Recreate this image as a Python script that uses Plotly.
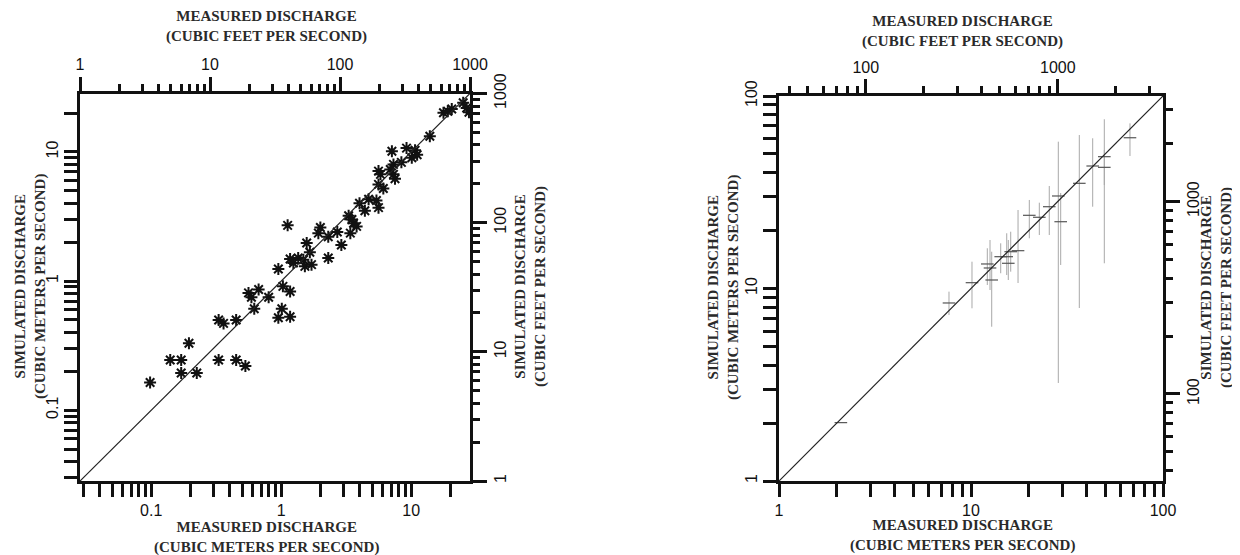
import math
import plotly.graph_objects as go

# ---------------- data ----------------
CFS_PER_CMS = 35.3147

# Left panel: measured vs simulated discharge (cubic meters per second)
left_measured = [25.1, 26.7, 27.8, 17.7, 19.1, 20.5, 13.9, 9.2, 7.1, 10.7, 11.1, 10.1,
                 8.4, 7.3, 6.9, 7.3, 7.5, 5.6, 5.8, 5.6, 6.1, 4.0, 4.7, 4.4, 5.4, 5.6,
                 3.3, 3.5, 3.6, 3.8, 3.4, 2.7, 2.3, 2.0, 1.93, 2.9, 1.12, 1.57, 1.66,
                 1.17, 1.35, 1.48, 1.52, 1.71, 1.24, 2.3, 0.95, 1.03, 1.17, 0.56, 0.59,
                 0.67, 0.80, 0.62, 1.01, 0.95, 1.17, 0.33, 0.36, 0.45, 0.195, 0.14,
                 0.17, 0.33, 0.45, 0.53, 0.17, 0.224, 0.098]
left_simulated = [24.0, 21.9, 20.3, 20.1, 20.6, 21.5, 13.2, 10.7, 10.1, 10.3, 9.5, 9.0,
                  8.3, 8.0, 7.3, 6.7, 6.2, 7.1, 6.7, 5.6, 5.2, 4.0, 4.3, 3.5, 4.2, 3.7,
                  3.2, 3.0, 2.8, 2.65, 2.35, 2.4, 2.2, 2.6, 2.35, 1.9, 2.7, 1.97, 1.67,
                  1.48, 1.51, 1.46, 1.30, 1.34, 1.38, 1.51, 1.24, 0.91, 0.83, 0.81, 0.75,
                  0.86, 0.75, 0.61, 0.61, 0.52, 0.53, 0.50, 0.47, 0.50, 0.33, 0.245,
                  0.245, 0.245, 0.245, 0.22, 0.194, 0.194, 0.164]

# Right panel: measured vs simulated discharge with simulated range (m3/s)
right_measured = [2.10, 7.68, 10.12, 12.16, 12.82, 12.56, 14.28, 15.35, 16.10, 15.64,
                  17.58, 20.12, 22.69, 25.57, 28.49, 29.32, 36.65, 43.04, 49.47, 49.47,
                  67.3]
right_simulated = [2.01, 8.41, 10.72, 13.41, 11.07, 12.78, 14.63, 14.63, 15.53, 13.52,
                   15.72, 24.0, 23.44, 26.6, 30.24, 22.23, 35.19, 43.29, 48.4, 42.6,
                   60.7]
right_sim_high = [2.01, 9.63, 13.78, 16.18, 15.53, 17.86, 17.17, 19.36, 19.73, 17.86,
                  25.57, 28.83, 27.91, 34.08, 57.9, 31.34, 62.7, 60.3, 75.7, 52.4,
                  72.1]
right_sim_low = [2.01, 7.28, 7.89, 10.43, 6.33, 9.82, 12.0, 11.75, 12.23, 11.07,
                 10.68, 18.23, 18.96, 18.96, 3.23, 13.25, 7.92, 26.6, 13.52, 34.5,
                 48.8]

# axis ranges (m3/s) and tick values
left_range_cms = [1 / CFS_PER_CMS, 1000 / CFS_PER_CMS]
right_range_cms = [1.0, 100.0]
left_cms_ticks = [0.03, 0.04, 0.05, 0.06, 0.07, 0.08, 0.09, 0.1, 0.2, 0.3, 0.4, 0.5,
                  0.6, 0.7, 0.8, 0.9, 1, 2, 3, 4, 5, 6, 7, 8, 9, 10, 20]
left_cms_labels = ["0.1", "1", "10"]
left_cfs_major = [1, 10, 100, 1000]
left_cfs_minor = [2, 3, 4, 5, 6, 7, 8, 9, 20, 30, 40, 50, 60, 70, 80, 90,
                  200, 300, 400, 500, 600, 700, 800, 900]
right_cms_ticks = [1, 2, 3, 4, 5, 6, 7, 8, 9, 10, 20, 30, 40, 50, 60, 70, 80, 90, 100]
right_cms_labels = ["1", "10", "100"]
right_cfs_major = [100, 1000]
right_cfs_minor = [40, 50, 60, 70, 80, 90, 200, 300, 400, 500, 600, 700, 800, 900,
                   2000, 3000]

X_TITLE_CFS = "MEASURED DISCHARGE<br>(CUBIC FEET PER SECOND)"
X_TITLE_CMS = "MEASURED DISCHARGE<br>(CUBIC METERS PER SECOND)"
Y_TITLE_CMS = "SIMULATED DISCHARGE<br>(CUBIC METERS PER SECOND)"
Y_TITLE_CFS = "SIMULATED DISCHARGE<br>(CUBIC FEET PER SECOND)"

# ---------------- styling helpers ----------------
TICK_FONT = dict(family="Liberation Sans", size=16, color="#111")
TITLE_FONT = dict(family="Liberation Serif", size=15, color="#2a2a2a", weight="bold")
LINE_W = 3
TICK_W = 2.5

# the page adds an 8px body margin, so the figure is 8px smaller than the window
W, H = 1232, 547
OFF = 8


def px_x(p):
    return (p - OFF) / W


def px_y(p):
    return 1 - (p - OFF) / H


def lg(v):
    return math.log10(v)


def cms_axis(domain, rng, ticks, labels, anchor, side, angle=0):
    text = []
    for t in ticks:
        match = [lab for lab in labels if abs(float(lab) - t) < 1e-9]
        text.append(match[0] if match else "")
    return dict(
        type="log", domain=domain, range=[lg(rng[0]), lg(rng[1])], anchor=anchor,
        side=side, showline=True, linewidth=LINE_W, linecolor="#111",
        ticks="outside", ticklen=13, tickwidth=TICK_W, tickcolor="#111",
        tickmode="array", tickvals=ticks, ticktext=text, tickangle=angle,
        tickfont=TICK_FONT, showgrid=False, zeroline=False, fixedrange=True,
        automargin=False,
    )


def cfs_axis(rng, major, minor, overlay, anchor, side, angle=0):
    return dict(
        type="log", overlaying=overlay, range=[lg(rng[0]), lg(rng[1])], anchor=anchor,
        side=side, showline=True, linewidth=LINE_W, linecolor="#111",
        ticks="outside", ticklen=14, tickwidth=TICK_W, tickcolor="#111",
        tickmode="array", tickvals=major, ticktext=[str(v) for v in major],
        tickangle=angle, tickfont=TICK_FONT, showgrid=False, zeroline=False,
        fixedrange=True, automargin=False,
        minor=dict(tickmode="array", tickvals=minor, ticklen=7, tickwidth=TICK_W,
                   tickcolor="#111", ticks="outside", showgrid=False),
    )


def title_ann(text, cx, cy, angle=0):
    return dict(text=text, x=px_x(cx), y=px_y(cy), xref="paper", yref="paper",
                xanchor="center", yanchor="middle", showarrow=False,
                textangle=angle, font=TITLE_FONT, align="center")


left_xdom = [px_x(80), px_x(470)]
right_xdom = [px_x(779), px_x(1163)]
left_ydom = [px_y(481), px_y(93.5)]
right_ydom = [px_y(481), px_y(96)]

left_range_cfs = [left_range_cms[0] * CFS_PER_CMS, left_range_cms[1] * CFS_PER_CMS]
right_range_cfs = [right_range_cms[0] * CFS_PER_CMS, right_range_cms[1] * CFS_PER_CMS]

fig = go.Figure()

# 1:1 lines (drawn on the cfs axes, spanning the full axis range)
fig.add_trace(go.Scatter(x=left_range_cfs, y=left_range_cfs, mode="lines",
                         line=dict(color="#222", width=1.2), xaxis="x2", yaxis="y2",
                         hoverinfo="skip", showlegend=False))
fig.add_trace(go.Scatter(x=right_range_cfs, y=right_range_cfs, mode="lines",
                         line=dict(color="#222", width=1.2), xaxis="x4", yaxis="y4",
                         hoverinfo="skip", showlegend=False))

# left scatter of asterisks
fig.add_trace(go.Scatter(x=left_measured, y=left_simulated, mode="markers",
                         marker=dict(symbol="asterisk-open", size=10, color="#111",
                                     line=dict(color="#111", width=2)),
                         xaxis="x", yaxis="y", showlegend=False))

# right: crosses with simulated range
err_plus = [h - s for h, s in zip(right_sim_high, right_simulated)]
err_minus = [s - l for s, l in zip(right_simulated, right_sim_low)]
fig.add_trace(go.Scatter(x=right_measured, y=right_simulated, mode="markers",
                         marker=dict(symbol="line-ew-open", size=9, color="#555",
                                     line=dict(color="#555", width=1.2)),
                         error_y=dict(type="data", symmetric=False, array=err_plus,
                                      arrayminus=err_minus, color="#a8a8a8",
                                      thickness=1, width=0),
                         xaxis="x3", yaxis="y3", showlegend=False))

annotations = [
    title_ann(X_TITLE_CFS, 266, 27),
    title_ann(X_TITLE_CMS, 266, 537),
    title_ann(Y_TITLE_CMS, 30, 287, -90),
    title_ann(Y_TITLE_CFS, 530, 287, -90),
    title_ann(X_TITLE_CFS, 962, 31),
    title_ann(X_TITLE_CMS, 962, 535),
    title_ann(Y_TITLE_CMS, 723, 288, -90),
    title_ann(Y_TITLE_CFS, 1216, 288, -90),
]

fig.update_layout(
    width=W, height=H, margin=dict(l=0, r=0, t=0, b=0, autoexpand=False),
    paper_bgcolor="white", plot_bgcolor="white", showlegend=False,
    xaxis=cms_axis(left_xdom, left_range_cms, left_cms_ticks, left_cms_labels,
                   "y", "bottom"),
    yaxis=cms_axis(left_ydom, left_range_cms, left_cms_ticks, left_cms_labels,
                   "x", "left", angle=-90),
    xaxis2=cfs_axis(left_range_cfs, left_cfs_major, left_cfs_minor, "x", "y", "top"),
    yaxis2=cfs_axis(left_range_cfs, left_cfs_major, left_cfs_minor, "y", "x", "right",
                    angle=-90),
    xaxis3=cms_axis(right_xdom, right_range_cms, right_cms_ticks, right_cms_labels,
                    "y3", "bottom"),
    yaxis3=cms_axis(right_ydom, right_range_cms, right_cms_ticks, right_cms_labels,
                    "x3", "left", angle=-90),
    xaxis4=cfs_axis(right_range_cfs, right_cfs_major, right_cfs_minor, "x3", "y3", "top"),
    yaxis4=cfs_axis(right_range_cfs, right_cfs_major, right_cfs_minor, "y3", "x3", "right",
                    angle=-90),
    annotations=annotations,
)

fig.write_html("out.html")
